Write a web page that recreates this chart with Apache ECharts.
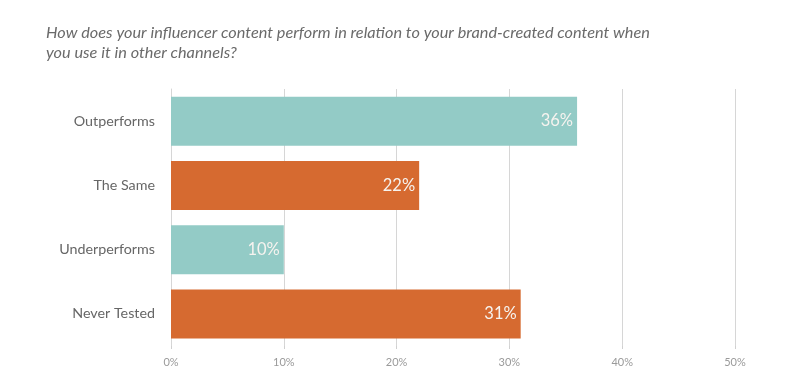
<!DOCTYPE html>
<html>
<head>
<meta charset="utf-8">
<script src="https://cdn.jsdelivr.net/npm/echarts@6/dist/echarts.min.js"></script>
<style>
html,body{margin:0;padding:0;background:#fff;}
#chart{width:800px;height:392px;}
</style>
</head>
<body>
<div id="chart"></div>
<script>
const titleText = "How does your influencer content perform in relation to your brand-created content when\nyou use it in other channels?";
const categories = ["Outperforms", "The Same", "Underperforms", "Never Tested"];
const values = [36, 22, 10, 31];
const xTicks = [0, 10, 20, 30, 40, 50];

const TEAL = "#93CBC6";
const ORANGE = "#D66A30";

const chart = echarts.init(document.getElementById('chart'), null, {renderer: 'canvas'});
chart.setOption({
  animation: false,
  backgroundColor: '#fff',
  title: {
    text: titleText,
    left: 46,
    top: 23,
    padding: 0,
    textStyle: {
      fontFamily: 'Lato',
      fontStyle: 'italic',
      fontWeight: 'normal',
      fontSize: 16.3,
      color: '#6a6a6a',
      lineHeight: 20
    }
  },
  grid: {left: 171, right: 65, top: 89, bottom: 46, containLabel: false},
  xAxis: {
    type: 'value',
    min: xTicks[0],
    max: xTicks[xTicks.length - 1],
    interval: 10,
    axisLine: {show: false},
    axisTick: {show: true, length: 3, lineStyle: {color: '#d0d0d0'}},
    splitLine: {show: true, lineStyle: {color: '#d6d6d6', width: 1}},
    axisLabel: {
      formatter: v => v + '%',
      color: '#9a9a9a',
      fontFamily: 'Lato',
      fontSize: 11,
      margin: 11
    }
  },
  yAxis: {
    type: 'category',
    data: categories,
    inverse: true,
    axisLine: {show: true, lineStyle: {color: '#d6d6d6'}},
    axisTick: {show: false},
    axisLabel: {
      color: '#666',
      fontFamily: 'Lato',
      fontSize: 14.3,
      margin: 16
    }
  },
  series: [{
    type: 'bar',
    data: values,
    barWidth: 49,
    itemStyle: {
      color: p => (p.dataIndex % 2 === 0 ? TEAL : ORANGE)
    },
    label: {
      show: true,
      position: 'insideRight',
      distance: 4,
      formatter: p => p.value + '%',
      color: '#f6f3ef',
      fontFamily: 'Lato',
      fontSize: 16.5
    }
  }]
});
</script>
</body>
</html>
